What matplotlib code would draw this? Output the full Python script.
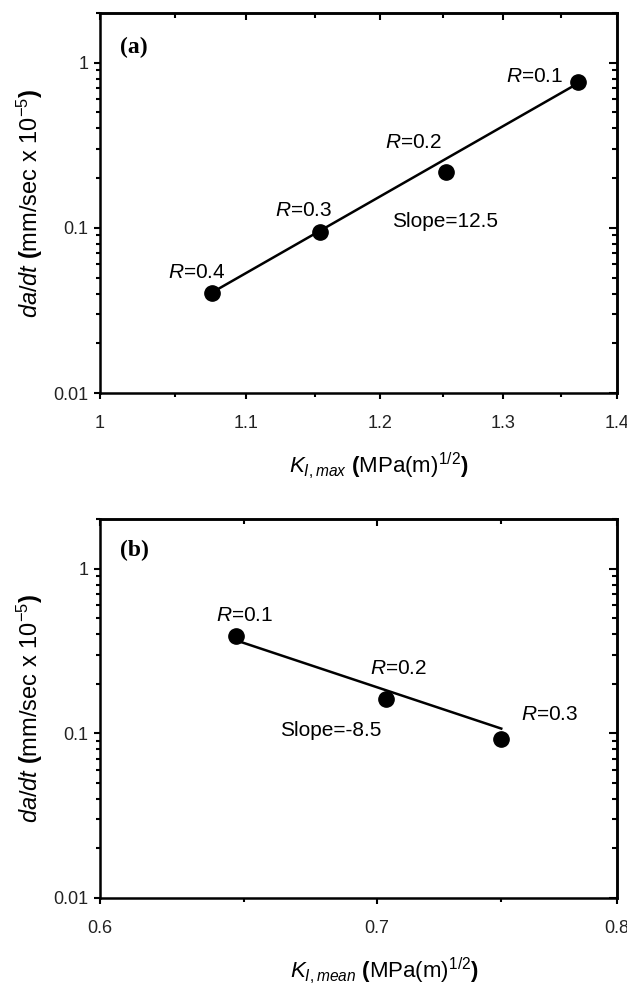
import matplotlib
matplotlib.use("Agg")
import matplotlib.pyplot as plt
from matplotlib.ticker import FixedLocator, FixedFormatter, NullFormatter

# ---------------- data ----------------
# panel (a)
kmax = [1.0754, 1.1536, 1.2524, 1.3653]
rate_a = [0.0405, 0.095, 0.219, 0.764]
r_labels_a = ["0.4", "0.3", "0.2", "0.1"]
fit_a_x = [1.0754, 1.3653]
fit_a_y = [0.0405, 0.753]
slope_a = "12.5"
xticks_a = [1.0, 1.1, 1.2, 1.3, 1.4]
xticklabels_a = ["1", "1.1", "1.2", "1.3", "1.4"]
xminor_a = [1.05, 1.15, 1.25, 1.35]

# panel (b)
kmean = [0.6473, 0.7034, 0.7501]
rate_b = [0.388, 0.162, 0.0929]
r_labels_b = ["0.1", "0.2", "0.3"]
fit_b_x = [0.6473, 0.7501]
fit_b_y = [0.366, 0.1068]
slope_b = "-8.5"
xticks_b = [0.6, 0.7, 0.8]
xticklabels_b = ["0.6", "0.7", "0.8"]
xminor_b = [0.65, 0.75]

yticks = [0.01, 0.1, 1.0]
yticklabels = ["0.01", "0.1", "1"]
ylim = (0.01, 2.0)

# ---------------- style ----------------
plt.rcParams["font.family"] = ["Liberation Sans", "DejaVu Sans"]
plt.rcParams["mathtext.fontset"] = "custom"
plt.rcParams["mathtext.rm"] = "Liberation Sans"
plt.rcParams["mathtext.sf"] = "Liberation Sans"
plt.rcParams["mathtext.it"] = "Liberation Sans:italic"
plt.rcParams["mathtext.bf"] = "Liberation Sans:bold"

fig = plt.figure(figsize=(6.27, 9.88), dpi=100)
ax_a = fig.add_axes([100 / 627, 1 - 393 / 988, 517 / 627, 380 / 988])
ax_b = fig.add_axes([100 / 627, 1 - 898 / 988, 517 / 627, 379 / 988])

ylabel = r"$\mathit{da/dt}$ $\mathbf{(}$mm/sec x 10$^{\mathrm{-5}}$$\mathbf{)}$"


def style_axes(ax, xt, xtl, xmin, xlim):
    ax.set_xscale("log")
    ax.set_yscale("log")
    ax.set_xlim(*xlim)
    ax.set_ylim(*ylim)
    ax.xaxis.set_major_locator(FixedLocator(xt))
    ax.xaxis.set_major_formatter(FixedFormatter(xtl))
    ax.xaxis.set_minor_locator(FixedLocator(xmin))
    ax.xaxis.set_minor_formatter(NullFormatter())
    ax.yaxis.set_major_locator(FixedLocator(yticks))
    ax.yaxis.set_major_formatter(FixedFormatter(yticklabels))
    yminor = [m * d for d in (0.01, 0.1, 1.0) for m in range(2, 10) if m * d <= ylim[1]]
    ax.yaxis.set_minor_locator(FixedLocator(yminor))
    ax.yaxis.set_minor_formatter(NullFormatter())
    for s in ax.spines.values():
        s.set_linewidth(1.8)
    ax.tick_params(which="both", direction="out", width=1.5, labelsize=13,
                   top=False, right=False, pad=4, labelcolor="#222222")
    ax.tick_params(axis="x", which="major", pad=11)
    ax.tick_params(which="major", length=4.5)
    ax.tick_params(which="minor", length=2.8)
    # inward ticks on top and right
    sx = ax.secondary_xaxis("top")
    sx.xaxis.set_major_locator(FixedLocator(xt))
    sx.xaxis.set_minor_locator(FixedLocator(xmin))
    sx.xaxis.set_major_formatter(NullFormatter())
    sx.xaxis.set_minor_formatter(NullFormatter())
    sx.tick_params(which="both", direction="in", width=1.5)
    sx.tick_params(which="major", length=5)
    sx.tick_params(which="minor", length=3.5)
    sx.spines["top"].set_linewidth(1.8)
    sy = ax.secondary_yaxis("right")
    sy.yaxis.set_major_locator(FixedLocator(yticks))
    sy.yaxis.set_minor_locator(FixedLocator(yminor))
    sy.yaxis.set_major_formatter(NullFormatter())
    sy.yaxis.set_minor_formatter(NullFormatter())
    sy.tick_params(which="both", direction="in", width=1.5)
    sy.tick_params(which="major", length=6)
    sy.tick_params(which="minor", length=3.5)
    sy.spines["right"].set_linewidth(1.8)
    ax.set_ylabel(ylabel, fontsize=17, labelpad=6)


# ---------------- panel (a) ----------------
style_axes(ax_a, xticks_a, xticklabels_a, xminor_a, (xticks_a[0], xticks_a[-1]))
ax_a.plot(fit_a_x, fit_a_y, color="black", lw=1.8, zorder=2)
ax_a.plot(kmax, rate_a, "o", color="black", ms=11, zorder=3)
ax_a.set_xlabel(r"$\mathit{K}_{\mathit{I,max}}$ $\mathbf{(}$MPa(m)$^{\mathrm{1/2}}$$\mathbf{)}$",
                fontsize=16)
ax_a.xaxis.set_label_coords(0.54, -0.15)
ax_a.text(0.039, 0.91, "(a)", transform=ax_a.transAxes, fontsize=17, fontweight="bold",
          family="Liberation Serif", ha="left", va="center")
pos_a = [(0.188, 0.318), (0.393, 0.479), (0.607, 0.660), (0.841, 0.834)]
for lab, (tx, ty) in zip(r_labels_a, pos_a):
    ax_a.text(tx, ty, r"$\mathit{R}$=" + lab, transform=ax_a.transAxes, fontsize=15,
              ha="center", va="center")
ax_a.text(0.667, 0.450, "Slope=" + slope_a, transform=ax_a.transAxes, fontsize=15,
          ha="center", va="center")

# ---------------- panel (b) ----------------
style_axes(ax_b, xticks_b, xticklabels_b, xminor_b, (xticks_b[0], xticks_b[-1]))
ax_b.plot(fit_b_x, fit_b_y, color="black", lw=1.8, zorder=2)
ax_b.plot(kmean, rate_b, "o", color="black", ms=11, zorder=3)
ax_b.set_xlabel(r"$\mathit{K}_{\mathit{I,mean}}$ $\mathbf{(}$MPa(m)$^{\mathrm{1/2}}$$\mathbf{)}$",
                fontsize=16)
ax_b.xaxis.set_label_coords(0.55, -0.15)
ax_b.text(0.039, 0.918, "(b)", transform=ax_b.transAxes, fontsize=17, fontweight="bold",
          family="Liberation Serif", ha="left", va="center")
pos_b = [(0.280, 0.745), (0.577, 0.606), (0.870, 0.484)]
for lab, (tx, ty) in zip(r_labels_b, pos_b):
    ax_b.text(tx, ty, r"$\mathit{R}$=" + lab, transform=ax_b.transAxes, fontsize=15,
              ha="center", va="center")
ax_b.text(0.447, 0.441, "Slope=" + slope_b, transform=ax_b.transAxes, fontsize=15,
          ha="center", va="center")

fig.savefig("out.png", dpi=100)
